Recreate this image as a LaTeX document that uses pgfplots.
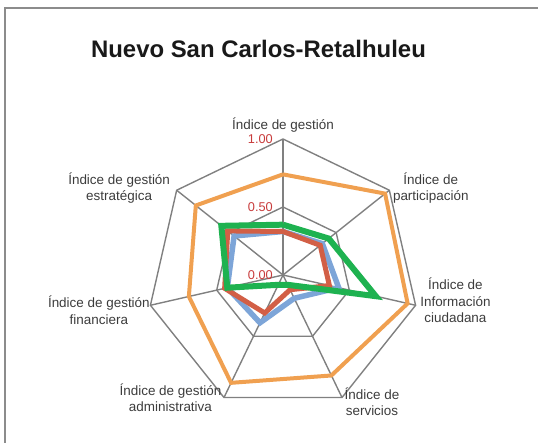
\documentclass[border=0pt]{standalone}
\usepackage{fontspec}
\setmainfont{Liberation Sans}
\usepackage{pgfplots}
\usepgfplotslibrary{polar}
\pgfplotsset{compat=1.18}
\definecolor{gridgray}{RGB}{128,128,128}
\definecolor{framegray}{RGB}{140,140,140}
\definecolor{ticklabel}{RGB}{200,60,60}
\definecolor{serblue}{RGB}{125,165,216}
\definecolor{serred}{RGB}{210,95,70}
\definecolor{sergreen}{RGB}{30,178,80}
\definecolor{serorange}{RGB}{240,160,80}
\definecolor{labeltext}{RGB}{60,60,60}

\begin{document}
\begin{tikzpicture}[x=1bp,y=1bp,
  label node/.style={font=\fontsize{13.5}{16.5}\selectfont, text=labeltext, align=center, inner sep=1.5bp},
  tick node/.style={font=\fontsize{12.8}{14}\selectfont, text=ticklabel, anchor=east, xshift=-9bp, inner sep=1bp}]
\useasboundingbox (0,0) rectangle (538,-443);
\draw[framegray, line width=1.2bp] (5,-443) -- (5,-8) -- (538,-8);
\node[font=\bfseries\fontsize{24}{28}\selectfont, text=black!90] at (258.5,-49) {Nuevo San Carlos-Retalhuleu};
\begin{polaraxis}[
  at={(283bp,-275bp)}, anchor=origin,
  width=272bp, height=272bp, scale only axis,
  hide axis, clip=false,
  ymin=0, ymax=1,
  every axis plot/.append style={no markers, line join=miter},
]
% grid rings
\addplot[gridgray, line width=1.4bp] coordinates {(90,0.5) (38.571,0.5) (-12.857,0.5) (-64.286,0.5) (-115.714,0.5) (-167.143,0.5) (141.429,0.5) (90,0.5)};
\addplot[gridgray, line width=1.4bp] coordinates {(90,1) (38.571,1) (-12.857,1) (-64.286,1) (-115.714,1) (-167.143,1) (141.429,1) (90,1)};
% spokes
\addplot[gridgray, line width=1.4bp] coordinates {(90,0) (90,1)};
\addplot[gridgray, line width=1.4bp] coordinates {(38.571,0) (38.571,1)};
\addplot[gridgray, line width=1.4bp] coordinates {(-12.857,0) (-12.857,1)};
\addplot[gridgray, line width=1.4bp] coordinates {(-64.286,0) (-64.286,1)};
\addplot[gridgray, line width=1.4bp] coordinates {(-115.714,0) (-115.714,1)};
\addplot[gridgray, line width=1.4bp] coordinates {(-167.143,0) (-167.143,1)};
\addplot[gridgray, line width=1.4bp] coordinates {(141.429,0) (141.429,1)};
% series
\addplot[serblue, line width=5.5bp] coordinates {(90,0.32) (38.571,0.37) (-12.857,0.42) (-64.286,0.19) (-115.714,0.39) (-167.143,0.42) (141.429,0.46) (90,0.32)};
\addplot[serred, line width=5bp] coordinates {(90,0.32) (38.571,0.35) (-12.857,0.35) (-64.286,0.12) (-115.714,0.31) (-167.143,0.44) (141.429,0.52) (90,0.32)};
\addplot[sergreen, line width=6bp] coordinates {(90,0.37) (38.571,0.43) (-12.857,0.70) (-64.286,0.08) (-115.714,0.08) (-167.143,0.42) (141.429,0.58) (90,0.37)};
\addplot[serorange, line width=4bp] coordinates {(90,0.74) (38.571,0.96) (-12.857,0.94) (-64.286,0.82) (-115.714,0.88) (-167.143,0.71) (141.429,0.82) (90,0.74)};
% tick labels
\node[tick node] at (axis cs:90,1) {1.00};
\node[tick node] at (axis cs:90,0.5) {0.50};
\node[tick node] at (axis cs:90,0) {0.00};
% category labels
\node[label node, anchor=south, yshift=5bp] at (axis cs:90,1) {Índice de gestión};
\node[label node, anchor=west, xshift=2bp, yshift=2bp] at (axis cs:38.571,1) {Índice de\\participación};
\node[label node, anchor=west, xshift=3bp, yshift=5bp] at (axis cs:-12.857,1) {Índice de\\Información\\ciudadana};
\node[label node, anchor=west, xshift=1bp, yshift=-4bp] at (axis cs:-64.286,1) {Índice de\\servicios};
\node[label node, anchor=east, xshift=-1bp] at (axis cs:-115.714,1) {Índice de gestión\\administrativa};
\node[label node, anchor=east, xshift=1bp, yshift=-5bp] at (axis cs:-167.143,1) {Índice de gestión\\financiera};
\node[label node, anchor=east, xshift=-5bp, yshift=2bp] at (axis cs:141.429,1) {Índice de gestión\\estratégica};
\end{polaraxis}
\end{tikzpicture}
\end{document}
